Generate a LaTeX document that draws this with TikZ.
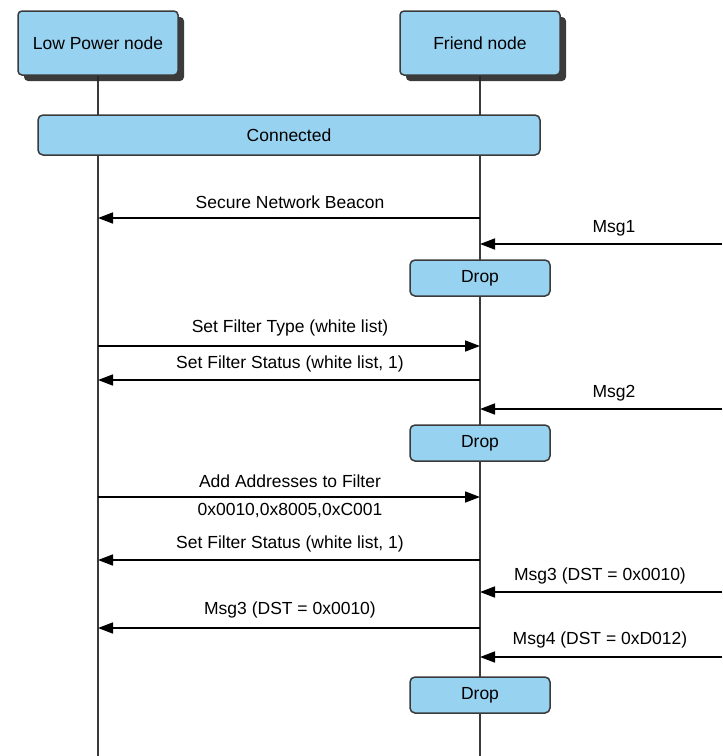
\documentclass[tikz,border=0pt]{standalone}
\usepackage{fontspec}
\setmainfont{Liberation Sans}
\usetikzlibrary{arrows.meta,shadows}
\definecolor{boxblue}{RGB}{152,210,241}
\definecolor{edge}{RGB}{58,58,58}
\tikzset{
  actor/.style={draw=edge, fill=boxblue, rounded corners=4pt, line width=1.5pt,
    minimum width=160pt, minimum height=64pt,
    drop shadow={shadow xshift=6pt, shadow yshift=-6pt, fill=black!85, opacity=0.9}},
  state/.style={draw=edge, fill=boxblue, rounded corners=5pt, line width=1.5pt, minimum height=36pt},
  msg/.style={-{Triangle[length=15pt,width=11pt]}, line width=1.6pt},
  lbl/.style={font=\fontsize{17.5}{20}\selectfont}
}
\begin{document}
\begin{tikzpicture}[x=1pt,y=-1pt]
\useasboundingbox (0,0) rectangle (723,756);

% lifelines
\coordinate (lpnend) at (98,756);
\coordinate (fnend) at (480,756);
\draw[edge, line width=1.5pt] (98,75) -- (lpnend);
\draw[edge, line width=1.5pt] (480,75) -- (fnend);

\node[actor, lbl] (lpn) at (98,43) {Low Power node};
\node[actor, lbl] (fn) at (480,43) {Friend node};

\node[state, lbl, minimum width=502pt, minimum height=40pt] (conn) at (289,135) {Connected};

% messages
\coordinate (a1) at (480,218);  \coordinate (b1) at (98,218);
\draw[msg] (a1) -- (b1);
\node[lbl] (t1) at (290,202) {Secure Network Beacon};

\coordinate (m1) at (722,244);  \coordinate (f1) at (480,244);
\draw[msg] (m1) -- (f1);
\node[lbl] (t2) at (614,228) {Msg1};
\node[state, lbl, minimum width=140pt] (drop1) at (480,278) {Drop};

\coordinate (a2) at (98,346);  \coordinate (b2) at (480,346);
\draw[msg] (a2) -- (b2);
\node[lbl] (t3) at (290,328) {Set Filter Type (white list)};

\coordinate (a3) at (480,380);  \coordinate (b3) at (98,380);
\draw[msg] (a3) -- (b3);
\node[lbl] (t4) at (290,364) {Set Filter Status (white list, 1)};

\coordinate (m2) at (722,409);  \coordinate (f2) at (480,409);
\draw[msg] (m2) -- (f2);
\node[lbl] (t5) at (614,393) {Msg2};
\node[state, lbl, minimum width=140pt] (drop2) at (480,443) {Drop};

\coordinate (a4) at (98,497);  \coordinate (b4) at (480,497);
\draw[msg] (a4) -- (b4);
\node[lbl] (t6) at (290,481) {Add Addresses to Filter};
\node[lbl] (t7) at (290,511) {0x0010,0x8005,0xC001};

\coordinate (a5) at (480,560);  \coordinate (b5) at (98,560);
\draw[msg] (a5) -- (b5);
\node[lbl] (t8) at (290,544) {Set Filter Status (white list, 1)};

\coordinate (m3) at (722,592);  \coordinate (f3) at (480,592);
\draw[msg] (m3) -- (f3);
\node[lbl] (t9) at (600,576) {Msg3 (DST = 0x0010)};

\coordinate (a6) at (480,628);  \coordinate (b6) at (98,628);
\draw[msg] (a6) -- (b6);
\node[lbl] (t10) at (290,610) {Msg3 (DST = 0x0010)};

\coordinate (m4) at (722,657);  \coordinate (f4) at (480,657);
\draw[msg] (m4) -- (f4);
\node[lbl] (t11) at (600,640) {Msg4 (DST = 0xD012)};
\node[state, lbl, minimum width=140pt] (drop3) at (480,695) {Drop};
\end{tikzpicture}
\end{document}
